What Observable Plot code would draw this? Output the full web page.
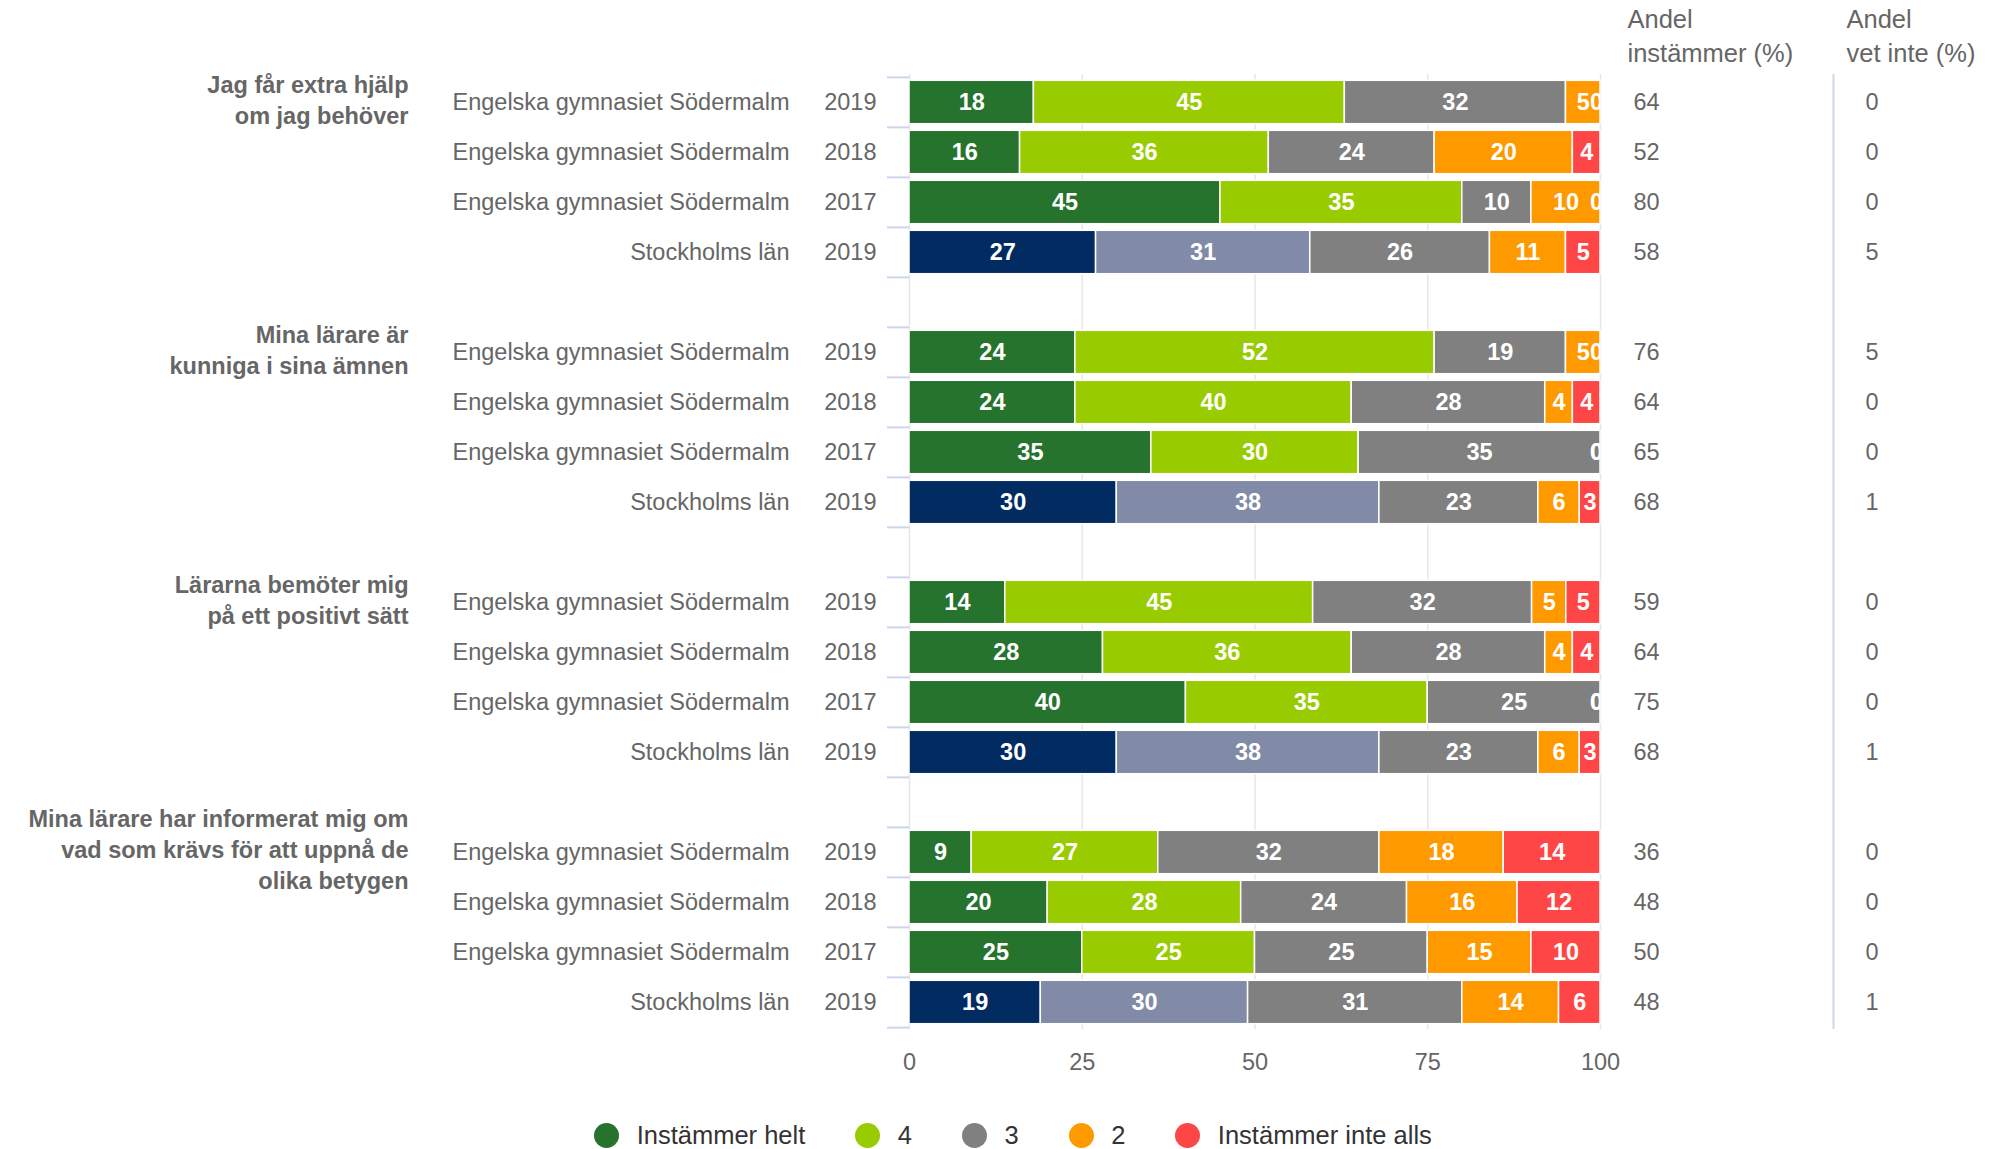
<!DOCTYPE html>
<html><head><meta charset="utf-8">
<script src="https://cdn.jsdelivr.net/npm/d3@7"></script>
<script src="https://cdn.jsdelivr.net/npm/@observablehq/plot@0.6"></script>
<style>
body{margin:0;background:#fff;font-family:"Liberation Sans",Arial,Helvetica,sans-serif;}
#chart{position:relative;width:1994px;height:1149px;overflow:hidden;}
#chart svg{display:block;position:absolute;left:0;top:0;}
#legend{position:absolute;left:0;top:1123px;width:1994px;height:25px;display:flex;justify-content:center;align-items:center;padding-left:32px;box-sizing:border-box;font-size:25.5px;color:#333;}
.item{display:flex;align-items:center;margin-right:50px;white-space:nowrap}
.item:last-child{margin-right:0}
.sw{width:25px;height:25px;border-radius:50%;margin-right:17.5px;flex:none}
</style></head><body><div id="chart"></div>
<script>
// ---------- data ----------
const categories = ["Instämmer helt", "4", "3", "2", "Instämmer inte alls"];
const questions = [
  "Jag får extra hjälp\nom jag behöver",
  "Mina lärare är\nkunniga i sina ämnen",
  "Lärarna bemöter mig\npå ett positivt sätt",
  "Mina lärare har informerat mig om\nvad som krävs för att uppnå de\nolika betygen"
];
const units = ["Engelska gymnasiet Södermalm", "Engelska gymnasiet Södermalm", "Engelska gymnasiet Södermalm", "Stockholms län"];
const years = ["2019", "2018", "2017", "2019"];
const q1Values = [[18, 45, 32, 5, 0], [16, 36, 24, 20, 4], [45, 35, 10, 10, 0], [27, 31, 26, 11, 5]];
const q2Values = [[24, 52, 19, 5, 0], [24, 40, 28, 4, 4], [35, 30, 35, 0, 0], [30, 38, 23, 6, 3]];
const q3Values = [[14, 45, 32, 5, 5], [28, 36, 28, 4, 4], [40, 35, 25, 0, 0], [30, 38, 23, 6, 3]];
const q4Values = [[9, 27, 32, 18, 14], [20, 28, 24, 16, 12], [25, 25, 25, 15, 10], [19, 30, 31, 14, 6]];
const andelInstammer = [[64, 52, 80, 58], [76, 64, 65, 68], [59, 64, 75, 68], [36, 48, 50, 48]];
const andelVetInte = [[0, 0, 0, 5], [5, 0, 0, 1], [0, 0, 0, 1], [0, 0, 0, 1]];
const xTicks = [0, 25, 50, 75, 100];
const headers = ["Andel\ninstämmer (%)", "Andel\nvet inte (%)"];

// ---------- styles ----------
const schoolColors = ["#26732e", "#99cc00", "#808080", "#ff9900", "#ff4646"];
const regionColors = ["#022c61", "#818aa6", "#808080", "#ff9900", "#ff4646"];
const FONT = '"Liberation Sans", Arial, Helvetica, sans-serif';

// ---------- build tables ----------
const allValues = [q1Values, q2Values, q3Values, q4Values];
const domain = [], rows = [], segs = [], groups = [];
allValues.forEach((qv, q) => {
  qv.forEach((vals, r) => {
    const key = `q${q}r${r}`;
    domain.push(key);
    rows.push({key, unit: units[r], year: years[r], andel: andelInstammer[q][r], vet: andelVetInte[q][r]});
    vals.forEach((v, c) => segs.push({key, cat: categories[c], value: v,
      fill: (r === 3 ? regionColors : schoolColors)[c]}));
  });
  groups.push({key: `q${q}r0`, title: questions[q]});
  if (q < allValues.length - 1) domain.push(`gap${q}`);
});

const W = 1994, H = 1100, mT = 74, mB = 71, mL = 909, mR = 394;
const step = (H - mT - mB) / domain.length;
const tickOpts = {tickSize: 22, tickFormat: () => "", label: null, stroke: "#ccd6eb", strokeWidth: 2};

const plot = Plot.plot({
  width: W, height: H, marginTop: mT, marginBottom: mB, marginLeft: mL, marginRight: mR,
  style: {fontFamily: FONT, fontSize: "23.5px", color: "#666", background: "transparent", overflow: "visible"},
  x: {domain: [0, 1], axis: null, label: null},
  y: {domain, padding: 0, axis: null, label: null},
  marks: [
    Plot.gridX({ticks: xTicks.map(t => t / 100), stroke: "#e6e6e6", strokeOpacity: 1, strokeWidth: 1.5}),
    Plot.ruleX([1], {dx: 233, stroke: "#ccd6eb", strokeWidth: 2}),
    Plot.axisY({ticks: domain, ...tickOpts, dy: -step / 2}),
    Plot.axisY({ticks: [domain[domain.length - 1]], ...tickOpts, dy: step / 2}),
    Plot.axisX({ticks: xTicks.map(t => t / 100), tickFormat: d => String(Math.round(d * 100)),
      tickSize: 0, tickPadding: 24, label: null, fill: "#666"}),
    Plot.barX(segs, Plot.stackX({x: "value", y: "key", offset: "normalize", fill: "fill",
      stroke: "white", strokeWidth: 1.5, insetTop: 3.3, insetBottom: 3.3})),
    Plot.text(segs, Plot.stackX({x: "value", y: "key", offset: "normalize",
      text: d => d.value === 0 ? "" : String(d.value),
      fill: "white", fontWeight: "bold", clip: true})),
    Plot.text(segs, Plot.stackX({x: "value", y: "key", offset: "normalize",
      text: d => d.value === 0 ? "0" : "",
      fill: "white", fontWeight: "bold", clip: true, dx: -4})),
    Plot.text(rows, {y: "key", text: "unit", frameAnchor: "left", dx: -120, textAnchor: "end", fill: "#666"}),
    Plot.text(rows, {y: "key", text: "year", frameAnchor: "left", dx: -33, textAnchor: "end", fill: "#666"}),
    Plot.text(groups, {y: "key", text: "title", frameAnchor: "left", dx: -501, dy: -4, textAnchor: "end",
      lineAnchor: "middle", fontWeight: "bold", lineHeight: 1.32, fill: "#666"}),
    Plot.text(rows, {y: "key", text: d => String(d.andel), frameAnchor: "right", dx: 33, textAnchor: "start", fill: "#666"}),
    Plot.text(rows, {y: "key", text: d => String(d.vet), frameAnchor: "right", dx: 265, textAnchor: "start", fill: "#666"}),
    Plot.text([headers[0]], {text: d => d, frameAnchor: "top-right", dx: 27, dy: -40, textAnchor: "start",
      lineAnchor: "middle", fontSize: 25.5, lineHeight: 1.333, fill: "#666"}),
    Plot.text([headers[1]], {text: d => d, frameAnchor: "top-right", dx: 246, dy: -40, textAnchor: "start",
      lineAnchor: "middle", fontSize: 25.5, lineHeight: 1.333, fill: "#666"})
  ]
});
const chart = document.getElementById("chart");
chart.appendChild(plot);

// legend
const legend = document.createElement("div");
legend.id = "legend";
categories.forEach((c, i) => {
  const item = document.createElement("div");
  item.className = "item";
  const sw = document.createElement("span");
  sw.className = "sw";
  sw.style.background = schoolColors[i];
  const t = document.createElement("span");
  t.textContent = c;
  item.appendChild(sw); item.appendChild(t);
  legend.appendChild(item);
});
chart.appendChild(legend);
</script>
</body></html>
